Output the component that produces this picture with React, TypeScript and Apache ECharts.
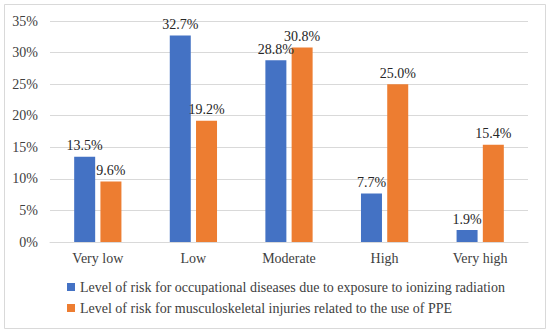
import React, { useEffect, useRef } from "react";
import * as echarts from "echarts";

const categories = ["Very low", "Low", "Moderate", "High", "Very high"];
const seriesNames = [
  "Level of risk for occupational diseases due to exposure to ionizing radiation",
  "Level of risk for musculoskeletal injuries related to the use of PPE",
];
const radiationValues = [13.5, 32.7, 28.8, 7.7, 1.9];
const ppeValues = [9.6, 19.2, 30.8, 25.0, 15.4];

const FONT = "'Times New Roman', 'Liberation Serif', serif";

export default function App() {
  const ref = useRef<HTMLDivElement>(null);
  useEffect(() => {
    document.body.style.margin = "0";
    const chart = echarts.init(ref.current!, null, { renderer: "svg" });
    const label = {
      show: true,
      position: "top" as const,
      distance: 4,
      color: "#262626",
      fontFamily: FONT,
      fontSize: 14,
      formatter: (p: any) => Number(p.value).toFixed(1) + "%",
    };
    chart.setOption({
      animation: false,
      textStyle: { fontFamily: FONT },
      graphic: [
        {
          type: "rect",
          shape: { x: 4.5, y: 4.5, width: 541, height: 324 },
          style: { fill: "none", stroke: "#d9d9d9", lineWidth: 1 },
          silent: true,
        },
      ],
      grid: { left: 50, right: 22, top: 21, bottom: 92, containLabel: false },
      xAxis: {
        type: "category",
        data: categories,
        axisLine: { show: true, lineStyle: { color: "#d9d9d9" } },
        axisTick: { show: false },
        axisLabel: { color: "#404040", fontSize: 14, fontFamily: FONT, margin: 9 },
      },
      yAxis: {
        type: "value",
        min: 0,
        max: 35,
        interval: 5,
        axisLine: { show: false },
        axisTick: { show: false },
        splitLine: { lineStyle: { color: "#d9d9d9" } },
        axisLabel: {
          color: "#404040",
          fontSize: 14,
          fontFamily: FONT,
          margin: 12,
          formatter: "{value}%",
        },
      },
      legend: {
        orient: "vertical",
        left: 62,
        top: 275,
        itemWidth: 8,
        itemHeight: 8,
        itemGap: 7,
        icon: "rect",
        textStyle: { color: "#404040", fontSize: 14, fontFamily: FONT },
        data: seriesNames,
      },
      series: [
        {
          name: seriesNames[0],
          type: "bar",
          data: radiationValues,
          itemStyle: { color: "#4472C4" },
          barWidth: 21,
          barGap: "25%",
          label,
        },
        {
          name: seriesNames[1],
          type: "bar",
          data: ppeValues,
          itemStyle: { color: "#ED7D31" },
          barWidth: 21,
          barGap: "25%",
          label,
        },
      ],
    });
    return () => chart.dispose();
  }, []);
  return <div ref={ref} style={{ width: 550, height: 334 }} />;
}
